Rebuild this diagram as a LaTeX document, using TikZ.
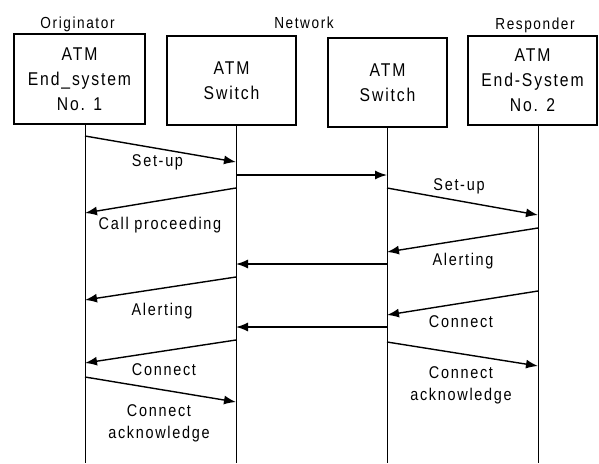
\documentclass[tikz,border=0pt]{standalone}
\usepackage{fontspec}
\setmainfont[FakeStretch=0.85,LetterSpace=10]{Liberation Sans}
\usetikzlibrary{arrows.meta}

\begin{document}
\begin{tikzpicture}[x=1pt,y=-1pt,
    box/.style={draw,line width=1.3pt,align=center,font=\fontsize{18.5}{25}\selectfont},
    life/.style={line width=1pt},
    msg/.style={line width=1.4pt,-{Latex[length=12pt,width=9pt]}},
    lbl/.style={font=\fontsize{17}{22}\selectfont,align=center},
    role/.style={font=\fontsize{16}{18}\selectfont,anchor=base}]
      \useasboundingbox (0,0) rectangle (599,463);
      \node[role] (orig) at (77.5,28) {Originator};
      \node[role] (net) at (304,28) {Network};
      \node[role] (resp) at (535,29) {Responder};
      \node[box,minimum width=131,minimum height=90] (es1) at (79.5,79) {ATM\\End\_system\\No. 1};
      \node[box,minimum width=129,minimum height=89] (sw1) at (231.5,80.5) {ATM\\Switch};
      \node[box,minimum width=119,minimum height=89] (sw2) at (387.5,82.5) {ATM\\Switch};
      \node[box,minimum width=129,minimum height=89] (es2) at (532.5,80.5) {ATM\\End-System\\No. 2};
      \coordinate (l1) at (es1.south -| 85,0);
      \coordinate (l2) at (sw1.south -| 236,0);
      \coordinate (l3) at (sw2.south -| 387,0);
      \coordinate (l4) at (es2.south -| 538,0);
      \draw[life] (l1) -- (l1 |- 0,463);
      \draw[life] (l2) -- (l2 |- 0,463);
      \draw[life] (l3) -- (l3 |- 0,463);
      \draw[life] (l4) -- (l4 |- 0,463);
      \draw[msg] (l1 |- 0,136) -- (l2 |- 0,162);
      \draw[msg] (l2 |- 0,175) -- (l3 |- 0,175);
      \draw[msg] (l3 |- 0,188) -- (l4 |- 0,215);
      \draw[msg] (l2 |- 0,188) -- (l1 |- 0,213);
      \draw[msg] (l4 |- 0,228) -- (l3 |- 0,252);
      \draw[msg] (l3 |- 0,264) -- (l2 |- 0,264);
      \draw[msg] (l2 |- 0,277) -- (l1 |- 0,300);
      \draw[msg] (l4 |- 0,291) -- (l3 |- 0,315);
      \draw[msg] (l3 |- 0,327) -- (l2 |- 0,327);
      \draw[msg] (l2 |- 0,340) -- (l1 |- 0,363);
      \draw[msg] (l1 |- 0,377) -- (l2 |- 0,402);
      \draw[msg] (l3 |- 0,342) -- (l4 |- 0,366);
      \node[lbl,anchor=base] (setup1) at (157.5,166) {Set-up};
      \node[lbl,anchor=base] (callp) at (160,229) {Call proceeding};
      \node[lbl,anchor=base] (setup2) at (459,190) {Set-up};
      \node[lbl,anchor=base] (alert2) at (463,265) {Alerting};
      \node[lbl,anchor=base] (alert1) at (162,315) {Alerting};
      \node[lbl,anchor=base] (conn2) at (461,327) {Connect};
      \node[lbl,anchor=base] (conn1) at (164,375) {Connect};
      \node[lbl] (ack2) at (461,385) {Connect\\acknowledge};
      \node[lbl] (ack1) at (159,423) {Connect\\acknowledge};
    \end{tikzpicture}
\end{document}
